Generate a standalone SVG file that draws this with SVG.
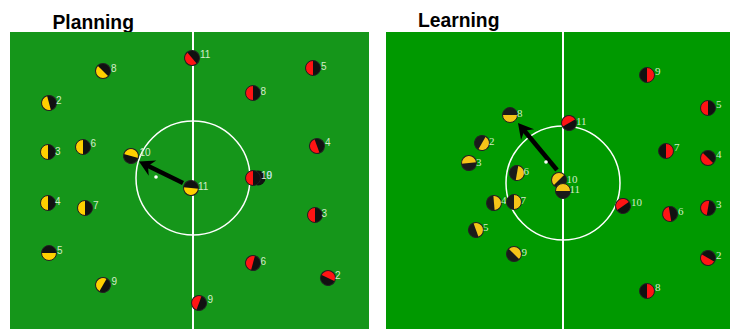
<svg xmlns="http://www.w3.org/2000/svg" xmlns:xlink="http://www.w3.org/1999/xlink" width="730" height="329" viewBox="0 0 730 329">
<style>
.title{font-family:"Liberation Sans",Arial,sans-serif;font-weight:bold;font-size:19.3px;fill:#000}
.lbl{font-family:"Liberation Sans",Arial,sans-serif;font-size:10px;fill:#d2ecc8}
.lbr{font-family:"Liberation Serif","Times New Roman",serif;font-size:11px;fill:#d2ecc8}
.fl{fill:none;stroke:#fff}
.arrow{stroke:#000;stroke-width:4.5;fill:none;marker-end:url(#ah)}
.ball{fill:#fff}
</style>
<defs>
<marker id="ah" viewBox="-18 -10 20 20" refX="-8" refY="0" markerWidth="20" markerHeight="20" markerUnits="userSpaceOnUse" orient="auto">
<path d="M0,0 L-15,-8.5 L-10,0 L-15,8.5 Z" fill="#000"/>
</marker>
<g id="py"><circle r="7.5" fill="#111"/><path d="M0,-7.5 A7.5,7.5 0 0 1 0,7.5 Z" fill="#ffd000"/><circle r="7.5" fill="none" stroke="#222" stroke-width="1"/></g>
<g id="py2"><circle r="7.5" fill="#1a1a1a"/><path d="M0,-7.5 A7.5,7.5 0 0 1 0,7.5 Z" fill="#f5c418"/><circle r="7.5" fill="none" stroke="#222" stroke-width="1"/></g>
<g id="pr"><circle r="7.5" fill="#111"/><path d="M0,-7.5 A7.5,7.5 0 0 1 0,7.5 Z" fill="#ff1414"/><circle r="7.5" fill="none" stroke="#222" stroke-width="1"/></g>
</defs>
<rect width="730" height="329" fill="#fff"/>
<text class="title" x="52.5" y="29.3">Planning</text>
<text class="title" x="418" y="26.7">Learning</text>
<g id="field-left">
<rect x="10" y="32" width="359" height="297" fill="#15961a"/>
<line class="fl" x1="193" y1="32" x2="193" y2="329" stroke-width="2"/>
<circle class="fl" cx="193" cy="178" r="57" stroke-width="1.5"/>
</g>
<g id="field-right">
<rect x="386" y="32" width="344" height="297" fill="#009900"/>
<line class="fl" x1="563" y1="32" x2="563" y2="329" stroke-width="2"/>
<circle class="fl" cx="563" cy="183" r="57" stroke-width="1.5"/>
</g>
<g id="connectors">
<line class="arrow" x1="183" y1="183" x2="146.2" y2="165"/>
<line class="arrow" x1="557" y1="170" x2="523.1" y2="129.2"/>
</g>
<circle id="ball-left" class="ball" cx="156" cy="177" r="1.8"/>
<circle id="ball-right" class="ball" cx="546" cy="162" r="1.8"/>
<!-- left field yellow -->
<g id="L-y8"><use xlink:href="#py" transform="translate(103,71) rotate(135)"/><text class="lbl" x="111" y="72">8</text></g>
<g id="L-y2"><use xlink:href="#py" transform="translate(49,103) rotate(165)"/><text class="lbl" x="56" y="104">2</text></g>
<g id="L-y3"><use xlink:href="#py" transform="translate(48,152) rotate(180)"/><text class="lbl" x="55" y="154.5">3</text></g>
<g id="L-y6"><use xlink:href="#py" transform="translate(83,147) rotate(180)"/><text class="lbl" x="90.5" y="147">6</text></g>
<g id="L-y10"><use xlink:href="#py" transform="translate(131,156) rotate(-75)"/><text class="lbl" x="139.5" y="156">10</text></g>
<g id="L-y4"><use xlink:href="#py" transform="translate(48,203) rotate(180)"/><text class="lbl" x="55" y="205">4</text></g>
<g id="L-y7"><use xlink:href="#py" transform="translate(85,208) rotate(180)"/><text class="lbl" x="93" y="208.5">7</text></g>
<g id="L-y11"><use xlink:href="#py" transform="translate(191,188) rotate(95)"/><text class="lbl" x="198" y="189.5">11</text></g>
<g id="L-y5"><use xlink:href="#py" transform="translate(49,253) rotate(90)"/><text class="lbl" x="57" y="254">5</text></g>
<g id="L-y9"><use xlink:href="#py" transform="translate(103,285) rotate(-150)"/><text class="lbl" x="111.5" y="285">9</text></g>
<!-- left field red -->
<g id="L-r11"><use xlink:href="#pr" transform="translate(192,58) rotate(140)"/><text class="lbl" x="200" y="58">11</text></g>
<g id="L-r5"><use xlink:href="#pr" transform="translate(313,68) rotate(180)"/><text class="lbl" x="321" y="69.5">5</text></g>
<g id="L-r8"><use xlink:href="#pr" transform="translate(253,93) rotate(180)"/><text class="lbl" x="260.5" y="95">8</text></g>
<g id="L-r4"><use xlink:href="#pr" transform="translate(317,146) rotate(160)"/><text class="lbl" x="325" y="146">4</text></g>
<g id="L-r10"><circle cx="258" cy="178" r="7.5" fill="#111"/><use xlink:href="#pr" transform="translate(253,178) rotate(180)"/><text class="lbl" x="261" y="179">10<tspan dx="-5.6" fill="#b8dcec">9</tspan></text></g>
<g id="L-r3"><use xlink:href="#pr" transform="translate(315,215) rotate(180)"/><text class="lbl" x="321.5" y="217">3</text></g>
<g id="L-r6"><use xlink:href="#pr" transform="translate(253,263) rotate(-165)"/><text class="lbl" x="260.5" y="264.5">6</text></g>
<g id="L-r2"><use xlink:href="#pr" transform="translate(328,278) rotate(-65)"/><text class="lbl" x="335" y="279">2</text></g>
<g id="L-r9"><use xlink:href="#pr" transform="translate(199,303) rotate(-160)"/><text class="lbl" x="207.5" y="303">9</text></g>
<!-- right field yellow -->
<g id="R-y8"><use xlink:href="#py2" transform="translate(510,115) rotate(90)"/><text class="lbr" x="517" y="117">8</text></g>
<g id="R-y2"><use xlink:href="#py2" transform="translate(482,143) rotate(30)"/><text class="lbr" x="489" y="145">2</text></g>
<g id="R-y3"><use xlink:href="#py2" transform="translate(469,163) rotate(-95)"/><text class="lbr" x="476" y="166">3</text></g>
<g id="R-y6"><use xlink:href="#py2" transform="translate(517,173) rotate(10)"/><text class="lbr" x="523.5" y="175">6</text></g>
<g id="R-y10"><use xlink:href="#py2" transform="translate(559,180) rotate(-135)"/><text class="lbr" x="566.5" y="182.5">10</text></g>
<g id="R-y11"><use xlink:href="#py2" transform="translate(563,191) rotate(-90)"/><text class="lbr" x="569.5" y="193">11</text></g>
<g id="R-y4"><use xlink:href="#py2" transform="translate(494,203) rotate(-5)"/><text class="lbr" x="501" y="204">4</text></g>
<g id="R-y7"><use xlink:href="#py2" transform="translate(514,202) rotate(0)"/><text class="lbr" x="520.5" y="203.5">7</text></g>
<g id="R-y5"><use xlink:href="#py2" transform="translate(476,230) rotate(-20)"/><text class="lbr" x="483" y="231">5</text></g>
<g id="R-y9"><use xlink:href="#py2" transform="translate(514,254) rotate(-45)"/><text class="lbr" x="521.5" y="256">9</text></g>
<!-- right field red -->
<g id="R-r11"><use xlink:href="#pr" transform="translate(569,123) rotate(-120)"/><text class="lbr" x="576" y="124.5">11</text></g>
<g id="R-r10"><use xlink:href="#pr" transform="translate(623,206) rotate(-125)"/><text class="lbr" x="631" y="206">10</text></g>
<g id="R-r9"><use xlink:href="#pr" transform="translate(647,75) rotate(0)"/><text class="lbr" x="655" y="75">9</text></g>
<g id="R-r5"><use xlink:href="#pr" transform="translate(708,108) rotate(180)"/><text class="lbr" x="716" y="107.5">5</text></g>
<g id="R-r7"><use xlink:href="#pr" transform="translate(666,151) rotate(0)"/><text class="lbr" x="674" y="151">7</text></g>
<g id="R-r4"><use xlink:href="#pr" transform="translate(708,158) rotate(135)"/><text class="lbr" x="716" y="158">4</text></g>
<g id="R-r6"><use xlink:href="#pr" transform="translate(670,214) rotate(170)"/><text class="lbr" x="678" y="214.5">6</text></g>
<g id="R-r3"><use xlink:href="#pr" transform="translate(708,208) rotate(-170)"/><text class="lbr" x="716" y="208">3</text></g>
<g id="R-r2"><use xlink:href="#pr" transform="translate(708,258) rotate(120)"/><text class="lbr" x="716" y="258.5">2</text></g>
<g id="R-r8"><use xlink:href="#pr" transform="translate(647,291) rotate(0)"/><text class="lbr" x="655" y="291">8</text></g>
</svg>
